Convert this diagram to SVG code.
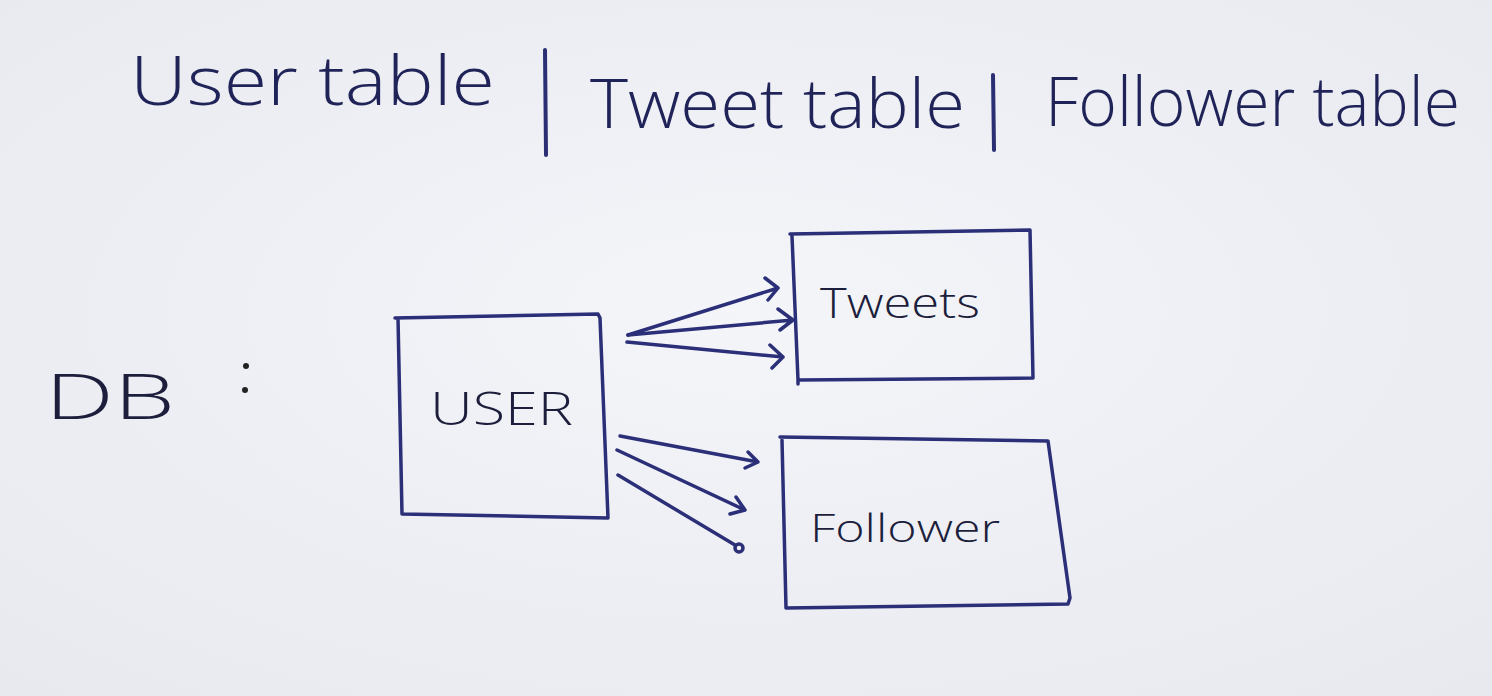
<svg xmlns="http://www.w3.org/2000/svg" width="1492" height="696" viewBox="0 0 1492 696">
<defs>
<radialGradient id="bg" cx="0.5" cy="0.45" r="0.8">
<stop offset="0" stop-color="#f4f5f9"/>
<stop offset="1" stop-color="#e6e8ee"/>
</radialGradient>
</defs>
<style>
.ink{fill:none;stroke:#2b2f78;stroke-width:3.5;stroke-linecap:round;stroke-linejoin:round}
.pen{fill:none;stroke:#2a2e72;stroke-width:4;stroke-linecap:round;stroke-linejoin:round}
.head{font-family:"Open Sans","Liberation Sans",sans-serif;font-weight:300;fill:#1f2358}
.lbl{font-family:"Open Sans","Liberation Sans",sans-serif;font-weight:300;fill:#1c1e3c}
</style>
<rect width="1492" height="696" fill="url(#bg)"/>
<g id="header">
<text class="head" x="130" y="105" font-size="68" textLength="365" lengthAdjust="spacingAndGlyphs">User table</text>
<path class="pen" d="M545 50 L546 155"/>
<text class="head" x="590" y="128" font-size="68" textLength="375" lengthAdjust="spacingAndGlyphs">Tweet table</text>
<path class="pen" d="M993 75 L994 150"/>
<text class="head" x="1045" y="126" font-size="68" textLength="415" lengthAdjust="spacingAndGlyphs">Follower table</text>
</g>
<g id="db-label">
<text class="lbl" x="45" y="419" font-size="62" textLength="130" lengthAdjust="spacingAndGlyphs">DB</text>
<circle cx="246" cy="366" r="3" fill="#222"/>
<circle cx="245" cy="390" r="3" fill="#222"/>
</g>
<g id="user">
<path class="ink" d="M395 318 L598 314 L600 318 L608 518 L402 514 L398 318"/>
<text class="lbl" x="430" y="425" font-size="46" textLength="143" lengthAdjust="spacingAndGlyphs">USER</text>
</g>
<g id="tweets">
<path class="ink" d="M790 234 L1030 230 L1033 378 L798 380 L792 236 M798 378 L798 384"/>
<text class="lbl" x="820" y="318" font-size="42" textLength="160" lengthAdjust="spacingAndGlyphs">Tweets</text>
</g>
<g id="follower">
<path class="ink" d="M780 437 L1048 441 L1070 598 L1068 604 L786 608 L782 440"/>
<text class="lbl" x="810" y="542" font-size="38" textLength="190" lengthAdjust="spacingAndGlyphs">Follower</text>
</g>
<g id="connectors">
<path class="ink" d="M628 335 L778 288 M765 278 L778 288 L768 300"/>
<path class="ink" d="M628 335 L793 320 M778 309 L793 320 L780 330"/>
<path class="ink" d="M627 342 L783 357 M770 345 L783 357 L772 368"/>
<path class="ink" d="M620 436 L758 462 M748 452 L758 462 L745 468"/>
<path class="ink" d="M617 450 L745 510 M736 497 L745 510 L730 514"/>
<path class="ink" d="M618 475 L735 545"/>
<circle class="ink" cx="739" cy="548" r="4"/>
</g>
</svg>
